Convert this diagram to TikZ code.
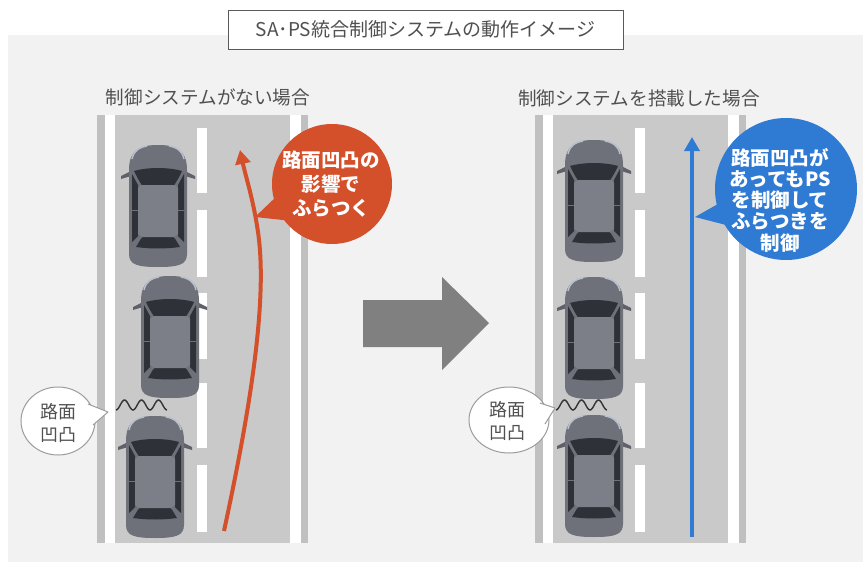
\documentclass[tikz,border=0pt]{standalone}
\usepackage{fontspec}
\setmainfont{Noto Sans CJK JP}
\newfontfamily\jp{Noto Sans CJK JP}
\usetikzlibrary{arrows.meta}

\definecolor{panelgray}{HTML}{F2F2F2}
\definecolor{roadgray}{HTML}{C9C9C9}
\definecolor{edgegray}{HTML}{C0C0C0}
\definecolor{textgray}{HTML}{505050}
\definecolor{framegray}{HTML}{5A5A5A}
\definecolor{carbody}{HTML}{6E7179}
\definecolor{carroof}{HTML}{7C7F87}
\definecolor{carglass}{HTML}{2F3138}
\definecolor{carmirror}{HTML}{5E6169}
\definecolor{carlight}{HTML}{B8C0CE}
\definecolor{alertred}{HTML}{D4502B}
\definecolor{calmblue}{HTML}{2F7AD2}
\definecolor{arrowgray}{HTML}{808080}
\definecolor{bubbleline}{HTML}{9C9C9C}
\definecolor{wavecol}{HTML}{333333}

\tikzset{
  car/.pic={
    % mirrors
    \fill[carmirror] (-27,-35) -- (-37,-30) -- (-37,-27) -- (-27,-30) -- cycle;
    \fill[carmirror] (27,-35) -- (37,-30) -- (37,-27) -- (27,-30) -- cycle;
    % body
    \fill[carbody] (-29,48) -- (-29,-36)
      .. controls (-29,-57) and (-17,-61) .. (0,-61)
      .. controls (17,-61) and (29,-57) .. (29,-36) -- (29,48)
      .. controls (29,59) and (20,61) .. (0,61)
      .. controls (-20,61) and (-29,59) .. (-29,48) -- cycle;
    % headlight highlights
    \draw[carlight, line width=1.5pt] (-26,-47) .. controls (-24,-56) and (-18,-59) .. (-11,-60);
    \draw[carlight, line width=1.5pt] (26,-47) .. controls (24,-56) and (18,-59) .. (11,-60);
    % side windows
    \fill[carglass] (-26,-32) -- (-20,-21) -- (-20,30) -- (-26,36) -- cycle;
    \fill[carglass] (26,-32) -- (20,-21) -- (20,30) -- (26,36) -- cycle;
    % windshield
    \fill[carglass] (-24,-35) .. controls (-10,-39) and (10,-39) .. (24,-35)
      -- (17,-21) -- (-17,-21) -- cycle;
    % rear window
    \fill[carglass] (-16,31) -- (16,31) -- (22,41)
      .. controls (8,43) and (-8,43) .. (-22,41) -- cycle;
    % roof
    \fill[carroof] (-17,-21) -- (17,-21) -- (20,-18) -- (20,28) -- (16,31)
      -- (-16,31) -- (-20,28) -- (-20,-18) -- cycle;
    % pillars
    \draw[carbody, line width=1pt] (-26,4) -- (-20,4) (26,4) -- (20,4);
    \draw[carbody, line width=1pt] (-17,-21) -- (-25,-33) (17,-21) -- (25,-33);
    \draw[carbody, line width=1pt] (-16,31) -- (-25,38) (16,31) -- (25,38);
  },
  heading/.style={font=\jp\fontsize{18.6}{22}\selectfont, text=textgray, inner sep=0pt},
  calloutText/.style={font=\jp\bfseries\fontsize{19.5}{24}\selectfont, text=white,
    align=center, inner sep=0pt},
  bubbleText/.style={font=\jp\fontsize{18}{23}\selectfont, text=textgray,
    align=center, inner sep=0pt},
  bubble/.style={draw=bubbleline, line width=1pt, fill=white},
  wave/.style={draw=wavecol, line width=1.4pt, line join=round},
}

\begin{document}
\begin{tikzpicture}[x=1pt, y=-1pt]
\useasboundingbox (0,0) rectangle (863,562);
\fill[white] (0,0) rectangle (863,562);

% background panel
\fill[panelgray] (8,35) rectangle (863,562);

% title
\node[draw=framegray, line width=0.8pt, fill=white, minimum width=395pt,
      minimum height=39pt, inner sep=0pt,
      font=\jp\fontsize{19}{22}\selectfont, text=textgray] (title) at (425.5,29.5)
  {SA･PS統合制御システムの動作イメージ};

% section headings
\node[heading] (headL) at (208,97) {制御システムがない場合};
\node[heading] (headR) at (639,98) {制御システムを搭載した場合};

% two roads with a dashed centre line
\foreach \ox in {0,438} {
  \fill[edgegray] (97+\ox,115) rectangle (308+\ox,543);
  \fill[white] (105+\ox,115) rectangle (301+\ox,543);
  \fill[roadgray] (115+\ox,115) rectangle (290+\ox,543);
  \foreach \ya/\yb in {128/193, 210/277, 293/359, 383/448, 465/532}
    \fill[white] (197+\ox,\ya) rectangle (207+\ox,\yb);
}

% cars, left road
\pic at (158,206) {car};
\pic at (170,337) {car};
\pic at (155,477) {car};
% cars, right road
\pic at (594,201) {car};
\pic at (594,338) {car};
\pic at (594,476) {car};

% bumps in the road surface
\draw[wave] plot[domain=0:3, samples=80] ({116+17*\x}, {405-5*sin(360*\x-90)});
\draw[wave] plot[domain=0:3, samples=80] ({556+17*\x}, {405-5*sin(360*\x-90)});

% wandering path without control
\draw[alertred, line width=4pt, -{Triangle[width=15pt,length=14pt]}]
  (224,531) .. controls (250,410) and (268,300) .. (258,232)
  .. controls (253,198) and (246,178) .. (240,150);

% straight path with control
\draw[calmblue, line width=4pt, -{Triangle[width=15pt,length=14pt]}]
  (692,537) -- (692,137);

% red callout
\node[circle, fill=alertred, minimum size=120pt, inner sep=0pt] (redCircle) at (332,184) {};
\fill[alertred] (255,217) -- (278,195) -- (292,221) -- cycle;
\node[calloutText] (redText) at (331,184) {路面凹凸の\\影響で\\ふらつく};

% blue callout
\node[circle, fill=calmblue, minimum size=142pt, inner sep=0pt] (blueCircle) at (786,189) {};
\fill[calmblue] (695,217) -- (725,200) -- (730,226) -- cycle;
\node[calloutText, font=\jp\bfseries\fontsize{19.5}{21.3}\selectfont] (blueText) at (780,200)
  {路面凹凸が\\あってもPS\\を制御して\\ふらつきを\\制御};

% small speech bubbles
\draw[bubble] (58,421) ellipse [x radius=37, y radius=34];
\fill[white] (88,404) -- (108,412) -- (93,425) -- cycle;
\draw[bubbleline, line width=1pt, line join=round] (88,404) -- (108,412) -- (93,425);
\node[bubbleText] (bumpL) at (59,423) {路面\\凹凸};

\draw[bubble] (509,420) ellipse [x radius=40, y radius=33];
\fill[white] (540,403) -- (555,408) -- (545,424) -- cycle;
\draw[bubbleline, line width=1pt, line join=round] (540,403) -- (555,408) -- (545,424);
\node[bubbleText] (bumpR) at (507,421) {路面\\凹凸};

% large transition arrow
\fill[arrowgray] (363,300) -- (442,300) -- (442,277) -- (489,323)
  -- (442,370) -- (442,347) -- (363,347) -- cycle;
\end{tikzpicture}
\end{document}
